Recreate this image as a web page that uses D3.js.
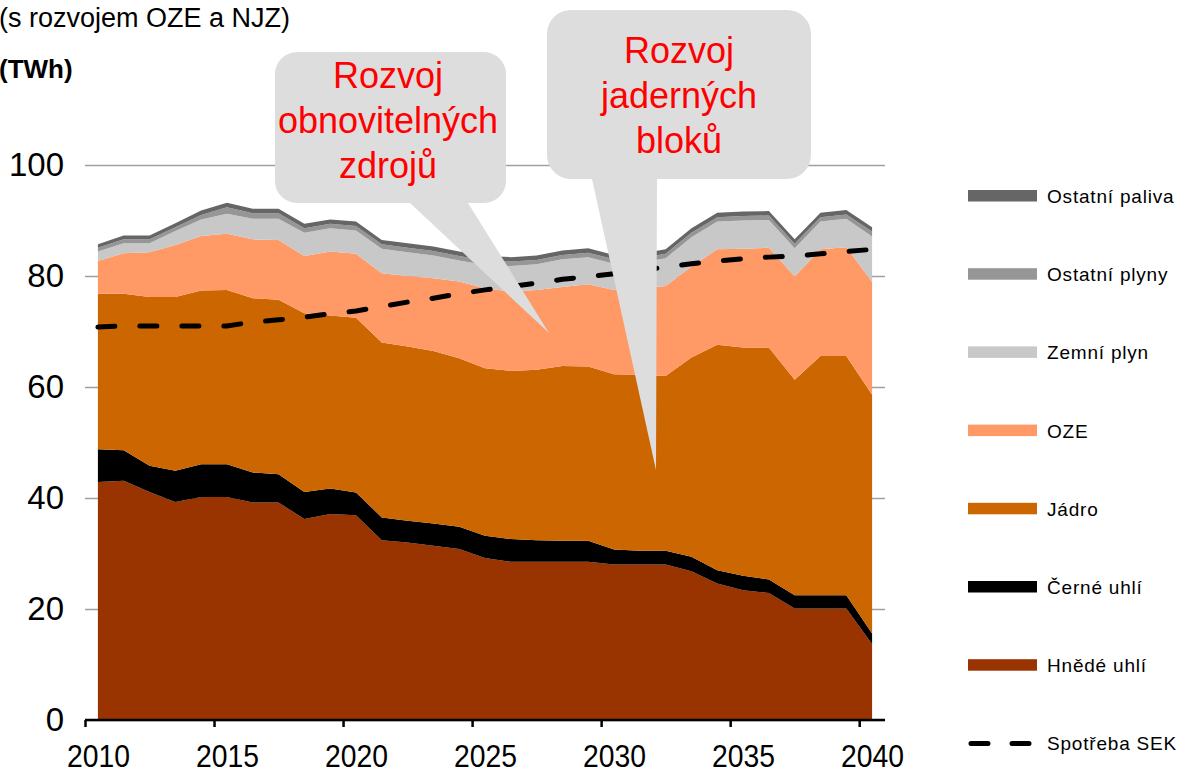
<!DOCTYPE html>
<html>
<head>
<meta charset="utf-8">
<script src="https://cdn.jsdelivr.net/npm/d3@7/dist/d3.min.js"></script>
<style>
body { margin: 0; background: #fff; }
text { font-family: "Liberation Sans", Arial, sans-serif; }
</style>
</head>
<body>
<svg id="chart" width="1181" height="771"></svg>
<script>
"use strict";

// ---- data (TWh) ----
var years = [2010,2011,2012,2013,2014,2015,2016,2017,2018,2019,2020,2021,2022,2023,2024,2025,
             2026,2027,2028,2029,2030,2031,2032,2033,2034,2035,2036,2037,2038,2039,2040];
var hnedeUhli   = [42.9,43.1,41.1,39.3,40.2,40.2,39.2,39.2,36.2,37.1,36.9,32.4,32.0,31.4,30.8,29.2,
                   28.5,28.5,28.5,28.5,28.0,28.0,28.0,26.8,24.6,23.4,22.9,20.1,20.1,20.1,13.7];
var cerneUhli   = [5.9,5.5,4.7,5.6,5.9,5.9,5.4,5.1,4.9,4.6,4.1,4.1,3.9,4.0,4.0,4.0,
                   4.1,3.9,3.8,3.8,2.7,2.5,2.5,2.6,2.4,2.6,2.4,2.4,2.4,2.4,1.9];
var jadro       = [28.0,28.2,30.4,31.3,31.3,31.4,31.4,31.4,32.2,31.2,31.5,31.5,31.4,31.1,30.4,30.2,
                   30.3,30.7,31.5,31.4,31.6,31.7,31.5,35.9,40.6,41.1,41.8,38.8,43.1,43.1,43.0];
var oze         = [5.9,7.3,8.1,9.4,9.8,10.1,10.6,10.8,10.3,11.5,11.5,12.5,12.7,13.1,13.8,14.4,
                   14.3,14.4,14.2,14.8,15.2,15.6,16.2,16.4,17.2,17.8,18.0,18.6,19.2,19.6,20.3];
var zemniPlyn   = [1.7,1.8,1.6,2.5,3.0,3.6,3.7,3.8,4.2,4.2,4.2,4.4,4.3,4.1,3.8,4.2,
                   4.6,4.6,5.0,4.9,4.7,4.6,5.0,5.3,5.0,5.1,5.0,5.1,5.0,5.1,8.2];
var ostatniPlyny  = [0.7,0.7,0.7,0.7,0.8,1.2,1.0,1.0,0.8,0.8,0.8,0.8,0.8,0.8,0.8,0.8,
                     0.8,0.8,0.8,0.8,0.8,0.8,0.8,0.8,0.8,0.8,0.8,0.8,0.8,0.8,0.9];
var ostatniPaliva = [0.6,0.7,0.7,0.7,0.8,0.8,0.8,0.8,0.8,0.8,0.8,0.8,0.8,0.8,0.8,0.8,
                     0.8,0.8,0.8,0.8,0.8,0.8,0.8,0.8,0.8,0.8,0.8,0.8,0.8,0.8,0.8];
var spotrebaSEK = [70.8,71.0,71.0,71.0,71.0,71.0,71.7,72.1,72.6,73.2,73.7,74.5,75.3,76.0,76.8,77.5,
                   78.1,78.7,79.4,79.9,80.4,81.0,81.6,82.2,82.7,83.1,83.4,83.6,84.0,84.4,84.8];

var seriesNames  = ["Hnědé uhlí","Černé uhlí","Jádro","OZE","Zemní plyn","Ostatní plyny","Ostatní paliva"];
var seriesValues = [hnedeUhli, cerneUhli, jadro, oze, zemniPlyn, ostatniPlyny, ostatniPaliva];
var seriesColors = ["#993300","#000000","#CC6600","#FF9966","#C8C8C8","#969696","#666666"];
var yTicks  = [0,20,40,60,80,100];
var xLabels = [2010,2015,2020,2025,2030,2035,2040];
var xTicks  = [2009.5,2014.5,2019.5,2024.5,2029.5,2034.5,2039.5];

// ---- setup ----
var svg = d3.select("#chart");
var plotLeft = 85, plotRight = 885, plotTop = 165, plotBottom = 720;

var x = d3.scaleLinear().domain([2009.5, 2040.5]).range([plotLeft, plotRight]);
var y = d3.scaleLinear().domain([0, 100]).range([plotBottom, plotTop]);

// table for the stack
var table = years.map(function(yr, i) {
	var row = { year: yr };
	seriesNames.forEach(function(n, k) { row[n] = seriesValues[k][i]; });
	return row;
});
var stacked = d3.stack().keys(seriesNames)(table);

// ---- titles ----
svg.append("text").attr("x", -1).attr("y", 27)
	.style("font-size", "27px").text("(s rozvojem OZE a NJZ)");
svg.append("text").attr("x", -1).attr("y", 78)
	.style("font-size", "26px").style("font-weight", "bold").text("(TWh)");

// ---- y axis + gridlines ----
var yAxis = svg.append("g").attr("class", "yaxis")
	.attr("transform", "translate(" + plotLeft + ",0)")
	.call(d3.axisLeft(y).tickValues(yTicks).tickSize(-(plotRight - plotLeft)).tickPadding(21));
yAxis.select(".domain").remove();
yAxis.selectAll(".tick line").attr("stroke", "#A0A0A0").attr("stroke-width", 1.6);
yAxis.selectAll(".tick text")
	.style("font-size", "33px").attr("fill", "#000")
	.style("font-family", "'Liberation Sans', Arial, sans-serif");

// ---- areas ----
var area = d3.area()
	.x(function(d) { return x(d.data.year); })
	.y0(function(d) { return y(d[0]); })
	.y1(function(d) { return y(d[1]); });

svg.append("g").attr("class", "areas")
	.selectAll("path")
	.data(stacked).enter()
	.append("path")
		.attr("d", area)
		.attr("fill", function(d, i) { return seriesColors[i]; });

// ---- x axis ----
var xAxis = svg.append("g").attr("class", "xaxis")
	.attr("transform", "translate(0," + plotBottom + ")")
	.call(d3.axisBottom(x).tickValues(xTicks).tickSize(7).tickFormat(""));
xAxis.select(".domain").attr("stroke", "#000").attr("stroke-width", 2.5)
	.attr("d", "M" + plotLeft + ",0H" + plotRight);
xAxis.selectAll(".tick line").attr("stroke", "#000").attr("stroke-width", 2.5);

var xLab = svg.append("g").attr("class", "xlabels")
	.attr("transform", "translate(0," + plotBottom + ")")
	.call(d3.axisBottom(x).tickValues(xLabels).tickSize(0).tickPadding(24).tickFormat(d3.format("d")));
xLab.select(".domain").remove();
xLab.selectAll(".tick text")
	.style("font-size", "32px").attr("fill", "#000")
	.style("font-family", "'Liberation Sans', Arial, sans-serif")
	.attr("textLength", 63).attr("lengthAdjust", "spacingAndGlyphs");

// ---- consumption line ----
var line = d3.line()
	.x(function(d, i) { return x(years[i]); })
	.y(function(d) { return y(d); });
svg.append("path")
	.datum(spotrebaSEK)
	.attr("d", line)
	.attr("fill", "none")
	.attr("stroke", "#000")
	.attr("stroke-width", 5)
	.attr("stroke-linecap", "round")
	.attr("stroke-dasharray", "17,25");

// ---- callouts ----
var callouts = svg.append("g").attr("class", "callouts");
callouts.append("path")
	.attr("d", "M297,52H484A22,22 0 0 1 506,74V181A22,22 0 0 1 484,203H468L549,333L410,203H297A22,22 0 0 1 275,181V74A22,22 0 0 1 297,52Z")
	.attr("fill", "#DDDDDD");
callouts.append("path")
	.attr("d", "M571,10H787A24,24 0 0 1 811,34V155A24,24 0 0 1 787,179H657L656,470L592,179H571A24,24 0 0 1 547,155V34A24,24 0 0 1 571,10Z")
	.attr("fill", "#DDDDDD");

var c1 = ["Rozvoj", "obnovitelných", "zdrojů"];
var c2 = ["Rozvoj", "jaderných", "bloků"];
callouts.selectAll("text.c1").data(c1).enter()
	.append("text").attr("class", "c1")
	.attr("x", 388).attr("y", function(d, i) { return 88 + i * 45; })
	.attr("text-anchor", "middle").attr("fill", "#FF0000")
	.style("font-size", "36px").text(function(d) { return d; });
callouts.selectAll("text.c2").data(c2).enter()
	.append("text").attr("class", "c2")
	.attr("x", 679).attr("y", function(d, i) { return 63 + i * 45; })
	.attr("text-anchor", "middle").attr("fill", "#FF0000")
	.style("font-size", "36px").text(function(d) { return d; });

// ---- legend ----
var legendItems = seriesNames.slice().reverse().concat(["Spotřeba SEK"]);
var legendColors = seriesColors.slice().reverse().concat(["#000"]);
var legend = svg.append("g").attr("class", "legend");
legendItems.forEach(function(name, i) {
	var ly = 196 + i * 78.2;
	if (name == "Spotřeba SEK") {
		legend.append("line")
			.attr("x1", 971).attr("x2", 1036).attr("y1", ly).attr("y2", ly)
			.attr("stroke", "#000").attr("stroke-width", 5)
			.attr("stroke-linecap", "round").attr("stroke-dasharray", "17,24");
	} else {
		legend.append("rect")
			.attr("x", 968).attr("y", ly - 6).attr("width", 69).attr("height", 11.5)
			.attr("fill", legendColors[i]);
	}
	legend.append("text")
		.attr("x", 1047).attr("y", ly + 7)
		.style("font-size", "19px").style("letter-spacing", "0.8px")
		.attr("fill", "#000")
		.text(name);
});
</script>
</body>
</html>
